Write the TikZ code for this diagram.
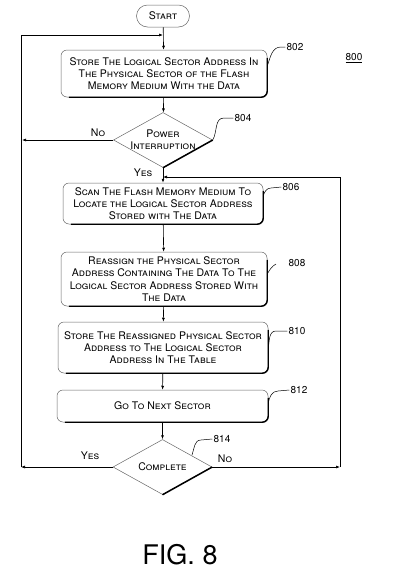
\documentclass[tikz,border=0pt]{standalone}
\usepackage{fontspec}
\setmainfont{TeX Gyre Heros}
\usetikzlibrary{shapes.geometric,arrows.meta}
\newcommand\boxfont{\fontsize{10.5}{12.2}\selectfont\scshape}
\newcommand\boxshadow[1]{\draw[line width=1.4pt, rounded corners=6pt] ([yshift=-8pt]#1.north east) -- (#1.south east) -- ([xshift=8pt]#1.south west);}
\begin{document}
\begin{tikzpicture}[x=1pt,y=-1pt,
 box/.style={draw=black!60, line width=0.5pt, rounded corners=6pt, align=center, inner sep=0pt, font=\boxfont},
 dia/.style={diamond, draw=black!60, line width=0.5pt, inner sep=0pt, minimum width=99pt, minimum height=55pt},
 arr/.style={-{Latex[length=4pt,width=3pt]}, line width=0.6pt},
 conn/.style={line width=0.6pt},
 lead/.style={line width=0.5pt},
 num/.style={font=\fontsize{10}{12}\selectfont, inner sep=1pt},
 lbl/.style={font=\boxfont, align=center, inner sep=0pt}
]
\useasboundingbox (0,0) rectangle (400,582);

\node[box, rounded corners=11pt, minimum width=53pt, minimum height=22pt] (start) at (163,16) {Start};

\node[box, minimum width=206pt, minimum height=47pt] (b802) at (164,73.5)
 {Store The Logical Sector Address In\\The Physical Sector of the Flash\\Memory Medium With the Data};
\boxshadow{b802}

\node[dia, label={[lbl]center:Power\\Interruption}] (d804) at (163,140) {};
\draw[line width=1.5pt] (d804.east) -- (d804.south);

\node[box, minimum width=200pt, minimum height=41pt] (b806) at (163,203.5)
 {Scan The Flash Memory Medium To\\Locate the Logical Sector Address\\Stored with The Data};
\boxshadow{b806}

\node[box, minimum width=206pt, minimum height=54pt] (b808) at (164,279)
 {Reassign the Physical Sector\\Address Containing The Data To The\\Logical Sector Address Stored With\\The Data};
\boxshadow{b808}

\node[box, minimum width=210pt, minimum height=51pt] (b810) at (163,347.5)
 {Store The Reassigned Physical Sector\\Address to The Logical Sector\\Address In The Table};
\boxshadow{b810}

\node[box, minimum width=211pt, minimum height=32pt] (b812) at (162.5,406) {Go To Next Sector};
\boxshadow{b812}

\node[dia, label={[lbl]center:Complete}] (d814) at (162.5,467) {};
\draw[line width=1.5pt] (d814.east) -- (d814.south);

% loop coordinates
\coordinate (j1) at (163,35);
\coordinate (lt) at (21,35);
\coordinate (lb) at (21,467);
\coordinate (nl) at (22,140);
\coordinate (rt) at (340,177);
\coordinate (rb) at (340,467);
\coordinate (j2) at (163,177);

% connectors
\draw[arr] (start) -- (b802);
\draw[conn] (lb) -- (lt);
\draw[arr] (lt) -- (j1);
\draw[arr] (b802) -- (d804);
\draw[arr] (d804.west) -- (nl);
\draw[arr] (d804) -- (b806);
\draw[conn] (rb) -- (rt);
\draw[arr] (rt) -- (j2);
\draw[arr] (b806) -- (b808);
\draw[arr] (b808) -- (b810);
\draw[arr] (b810) -- (b812);
\draw[arr] (b812) -- (d814);
\draw[arr] (d814.west) -- (lb);
\draw[arr] (d814.east) -- (rb);

% branch labels
\node[lbl] (no1) at (98,133) {No};
\node[lbl] (yes1) at (143,173) {Yes};
\node[lbl] (yes2) at (90,456) {Yes};
\node[lbl] (no2) at (225,459) {No};

% reference numerals
\node[num] (n800) at (354,58) {\underline{800}};
\node[num] (n802) at (295,47) {802};
\draw[lead] (b802.east |- 0,66) to[out=70,in=180] (281,47) -- (n802.west);
\node[num] (n804) at (243,118) {804};
\draw[lead] (d804.east) to[out=60,in=180] (224,118) -- (n804.west);
\node[num] (n806) at (291,187) {806};
\draw[lead] (b806.east |- 0,196) to[out=75,in=180] (271,188) -- (n806.west);
\node[num] (n808) at (297,263) {808};
\draw[lead] (b808.east |- 0,274) to[out=60,in=210] (276,264);
\node[num] (n810) at (297,331) {810};
\draw[lead] (b810.east |- 0,348) to[out=80,in=180] (276,331) -- (n810.west);
\node[num] (n812) at (299,390) {812};
\draw[lead] (b812.east |- 0,403) to[out=80,in=180] (278,391) -- (n812.west);
\node[num] (n814) at (222,439) {814};
\draw[lead] (192,455) to[out=70,in=180] (201,440) -- (n814.west);

\node[font=\fontsize{27}{30}\selectfont, inner sep=0pt] (fig) at (180,555) {FIG. 8};
\end{tikzpicture}
\end{document}
